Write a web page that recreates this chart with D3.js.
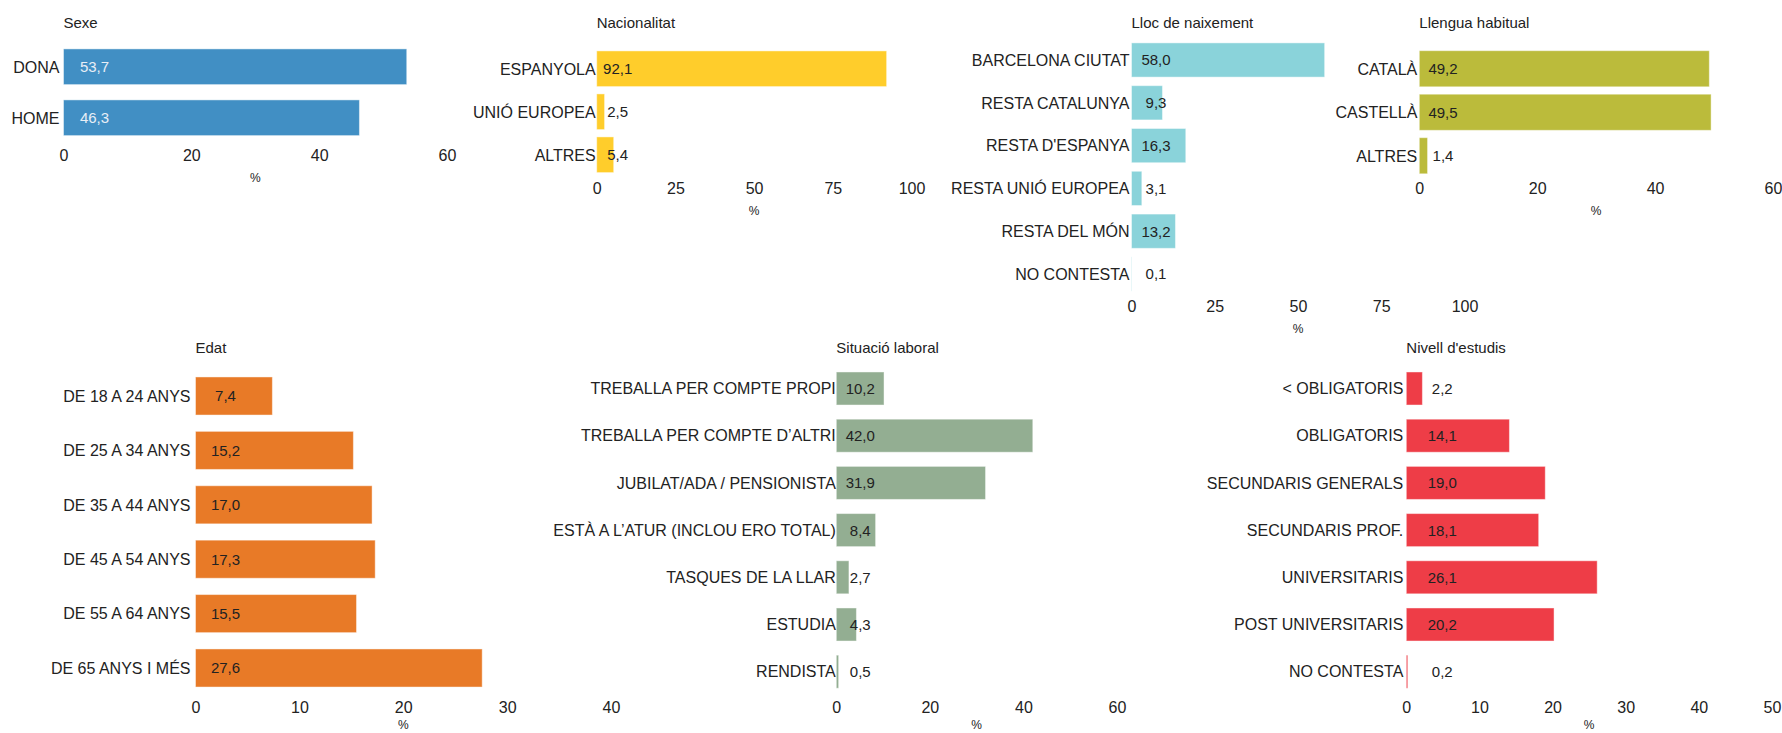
<!DOCTYPE html>
<html>
<head>
<meta charset="utf-8">
<script src="https://cdn.jsdelivr.net/npm/d3@7"></script>
<style>
  body { margin: 0; background: #fff; }
  svg { font-family: "Liberation Sans", Arial, sans-serif; }
</style>
</head>
<body>
<svg id="chart" width="1782" height="733"></svg>
<script>
// data
var sexeCats = ["DONA", "HOME"];
var sexeVals = [53.7, 46.3];
var sexeTicks = [0, 20, 40, 60];

var nacCats = ["ESPANYOLA", "UNIÓ EUROPEA", "ALTRES"];
var nacVals = [92.1, 2.5, 5.4];
var nacTicks = [0, 25, 50, 75, 100];

var llocCats = ["BARCELONA CIUTAT", "RESTA CATALUNYA", "RESTA D'ESPANYA", "RESTA UNIÓ EUROPEA", "RESTA DEL MÓN", "NO CONTESTA"];
var llocVals = [58.0, 9.3, 16.3, 3.1, 13.2, 0.1];
var llocTicks = [0, 25, 50, 75, 100];

var llenguaCats = ["CATALÀ", "CASTELLÀ", "ALTRES"];
var llenguaVals = [49.2, 49.5, 1.4];
var llenguaTicks = [0, 20, 40, 60];

var edatCats = ["DE 18 A 24 ANYS", "DE 25 A 34 ANYS", "DE 35 A 44 ANYS", "DE 45 A 54 ANYS", "DE 55 A 64 ANYS", "DE 65 ANYS I MÉS"];
var edatVals = [7.4, 15.2, 17.0, 17.3, 15.5, 27.6];
var edatTicks = [0, 10, 20, 30, 40];

var sitCats = ["TREBALLA PER COMPTE PROPI", "TREBALLA PER COMPTE D\u2019ALTRI", "JUBILAT/ADA / PENSIONISTA", "ESTÀ A L\u2019ATUR (INCLOU ERO TOTAL)", "TASQUES DE LA LLAR", "ESTUDIA", "RENDISTA"];
var sitVals = [10.2, 42.0, 31.9, 8.4, 2.7, 4.3, 0.5];
var sitTicks = [0, 20, 40, 60];

var nivellCats = ["< OBLIGATORIS", "OBLIGATORIS", "SECUNDARIS GENERALS", "SECUNDARIS PROF.", "UNIVERSITARIS", "POST UNIVERSITARIS", "NO CONTESTA"];
var nivellVals = [2.2, 14.1, 19.0, 18.1, 26.1, 20.2, 0.2];
var nivellTicks = [0, 10, 20, 30, 40, 50];

var svg = d3.select("#chart");
var txt = "#222";

var fmt = function(v){ return d3.format(".1f")(v).replace(".", ","); };

var panels = [
  {title:"Sexe", cats:sexeCats, vals:sexeVals, ticks:sexeTicks, color:"#418fc4", valColor:"#e8eef6",
   x0:63.5, x1:447, top:41.25, bottom:143.25, pad:0.3, titleY:28, tickY:161, pctY:182, gap:4, valOff:31},
  {title:"Nacionalitat", cats:nacCats, vals:nacVals, ticks:nacTicks, color:"#ffcd2b", valColor:txt,
   x0:596.7, x1:911.5, top:47.25, bottom:176.25, pad:0.17, titleY:28, tickY:194, pctY:215, gap:1, valOff:21},
  {title:"Lloc de naixement", cats:llocCats, vals:llocVals, ticks:llocTicks, color:"#8ad3da", valColor:txt,
   x0:1131.5, x1:1464.5, top:38.6, bottom:295.4, pad:0.2, titleY:28, tickY:312, pctY:333, gap:2, valOff:24.5},
  {title:"Llengua habitual", cats:llenguaCats, vals:llenguaVals, ticks:llenguaTicks, color:"#bbbb3b", valColor:txt,
   x0:1419.3, x1:1773, top:47, bottom:177.5, pad:0.17, titleY:28, tickY:194, pctY:215, gap:2, valOff:23.7},
  {title:"Edat", cats:edatCats, vals:edatVals, ticks:edatTicks, color:"#e87a27", valColor:txt,
   x0:195.5, x1:611, top:368.8, bottom:695.2, pad:0.3, titleY:353, tickY:713, pctY:729, gap:5, valOff:30},
  {title:"Situació laboral", cats:sitCats, vals:sitVals, ticks:sitTicks, color:"#93ae92", valColor:txt,
   x0:836.3, x1:1117, top:364.9, bottom:695.3, pad:0.3, titleY:353, tickY:713, pctY:729, gap:0.5, valOff:24},
  {title:"Nivell d'estudis", cats:nivellCats, vals:nivellVals, ticks:nivellTicks, color:"#ee3d47", valColor:txt,
   x0:1406.3, x1:1772, top:364.9, bottom:695.3, pad:0.3, titleY:353, tickY:713, pctY:729, gap:3, valOff:36}
];

panels.forEach(function(p){
  var g = svg.append("g");
  var maxT = p.ticks[p.ticks.length-1];
  var x = d3.scaleLinear().domain([0, maxT]).range([p.x0, p.x1]);
  var y = d3.scaleBand().domain(p.cats).range([p.top, p.bottom])
      .paddingInner(p.pad).paddingOuter(p.pad/2);
  var rows = p.cats.map(function(c,i){ return {cat:c, val:p.vals[i]}; });

  g.append("text")
      .attr("x", p.x0)
      .attr("y", p.titleY)
      .attr("font-size", 15)
      .attr("fill", txt)
      .text(p.title);

  g.selectAll("rect.bar")
      .data(rows)
      .enter().append("rect")
      .attr("class", "bar")
      .attr("x", x(0))
      .attr("y", function(d){ return y(d.cat); })
      .attr("width", function(d){ return x(d.val) - x(0); })
      .attr("height", y.bandwidth())
      .attr("fill", p.color)
      .attr("stroke", "rgba(255,255,255,0.45)")
      .attr("stroke-width", 1);

  g.selectAll("text.cat")
      .data(rows)
      .enter().append("text")
      .attr("class", "cat")
      .attr("x", x(0) - p.gap)
      .attr("y", function(d){ return y(d.cat) + y.bandwidth()/2; })
      .attr("dy", "0.36em")
      .attr("text-anchor", "end")
      .attr("font-size", 16)
      .attr("fill", txt)
      .text(function(d){ return d.cat; });

  g.selectAll("text.val")
      .data(rows)
      .enter().append("text")
      .attr("class", "val")
      .attr("x", x(0) + p.valOff)
      .attr("y", function(d){ return y(d.cat) + y.bandwidth()/2; })
      .attr("dy", "0.36em")
      .attr("text-anchor", "middle")
      .attr("font-size", 15)
      .attr("fill", p.valColor)
      .text(function(d){ return fmt(d.val); });

  var axis = g.append("g")
      .attr("transform", "translate(0," + (p.tickY - 11.4) + ")")
      .call(d3.axisBottom(x).tickValues(p.ticks).tickSize(0).tickPadding(0).tickFormat(d3.format("d")));
  axis.select(".domain").remove();
  axis.selectAll("text")
      .attr("font-size", 16)
      .attr("font-family", "Liberation Sans, Arial, sans-serif")
      .attr("fill", txt);

  g.append("text")
      .attr("x", (p.x0 + p.x1)/2)
      .attr("y", p.pctY)
      .attr("text-anchor", "middle")
      .attr("font-size", 12)
      .attr("fill", txt)
      .text("%");
});
</script>
</body>
</html>
